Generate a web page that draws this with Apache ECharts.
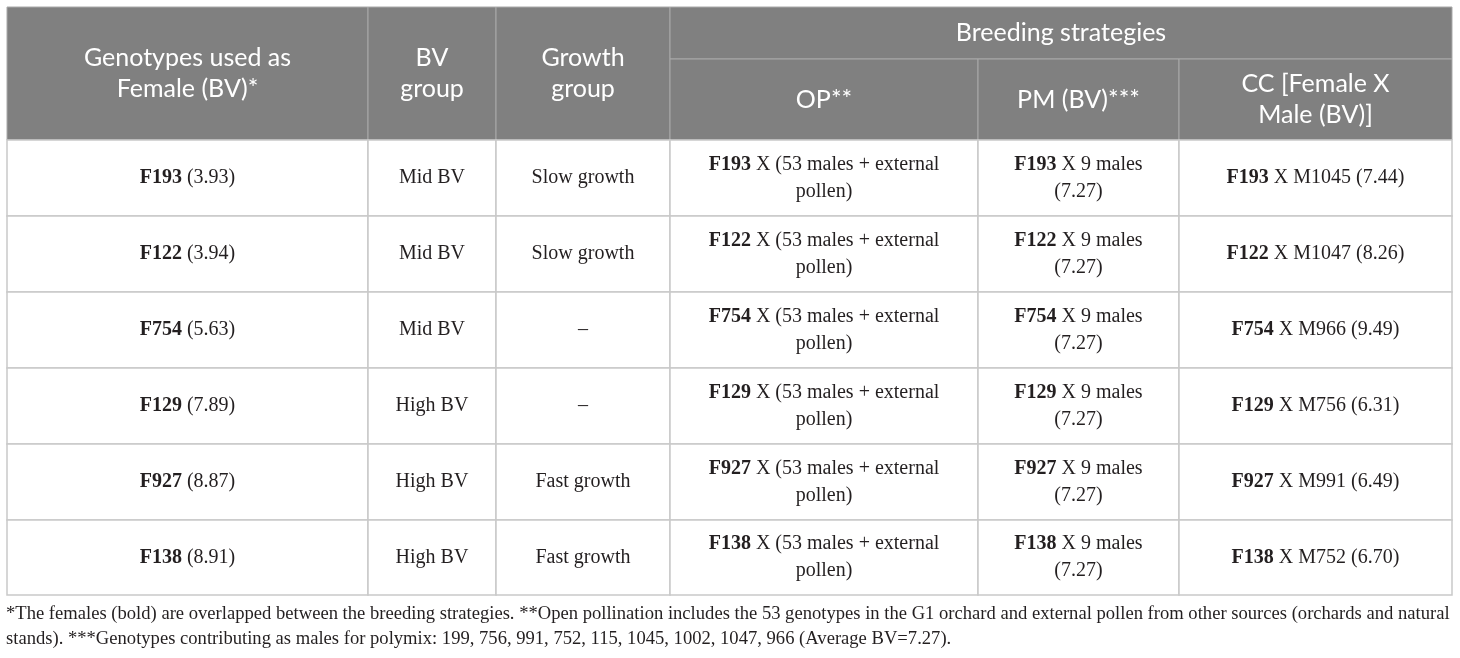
<!DOCTYPE html>
<html>
<head>
<meta charset="utf-8">
<script src="https://cdn.jsdelivr.net/npm/echarts@6/dist/echarts.min.js"></script>
<style>
  html, body { margin: 0; padding: 0; background: #fff; }
  #main { width: 1460px; height: 658px; }
</style>
</head>
<body>
<div id="main"></div>
<script>
// table content
var headTop = ['Genotypes used as\nFemale (BV)*', 'BV\ngroup', 'Growth\ngroup', 'Breeding strategies'];
var strategyHeads = ['OP**', 'PM (BV)***', 'CC [Female X\nMale (BV)]'];
var females = ['F193', 'F122', 'F754', 'F129', 'F927', 'F138'];
var femaleBV = ['3.93', '3.94', '5.63', '7.89', '8.87', '8.91'];
var bvGroup = ['Mid BV', 'Mid BV', 'Mid BV', 'High BV', 'High BV', 'High BV'];
var growthGroup = ['Slow growth', 'Slow growth', '\u2013', '\u2013', 'Fast growth', 'Fast growth'];
var opMales = 53;
var pmMales = 9;
var pmBV = '7.27';
var ccMales = ['M1045', 'M1047', 'M966', 'M756', 'M991', 'M752'];
var ccBV = ['7.44', '8.26', '9.49', '6.31', '6.49', '6.70'];
var footLines = [
    '*The females (bold) are overlapped between the breeding strategies. **Open pollination includes the 53 genotypes in the G1 orchard and external pollen from other sources (orchards and natural',
    'stands). ***Genotypes contributing as males for polymix: 199, 756, 991, 752, 115, 1045, 1002, 1047, 966 (Average BV=7.27).'
];

// layout (axis units = pixels of the page)
var colEdges = [7, 368, 496, 670, 978, 1179, 1452];
var rowEdges = [7, 59, 140, 216, 292, 368, 444, 520, 595];

var myChart = echarts.init(document.getElementById('main'));

// build cells: [x0, x1, y0, y1] from the edge indices
var cells = [];
function addCell(c0, c1, r0, r1, text, head) {
    cells.push({
        value: [colEdges[c0], colEdges[c1], rowEdges[r0], rowEdges[r1]],
        text: text,
        head: head
    });
}
addCell(0, 1, 0, 2, headTop[0], true);
addCell(1, 2, 0, 2, headTop[1], true);
addCell(2, 3, 0, 2, headTop[2], true);
addCell(3, 6, 0, 1, headTop[3], true);
for (var k = 0; k < strategyHeads.length; k++) {
    addCell(3 + k, 4 + k, 1, 2, strategyHeads[k], true);
}
for (var i = 0; i < females.length; i++) {
    var r = 2 + i;
    var f = '{b|' + females[i] + '}';
    addCell(0, 1, r, r + 1, f + ' (' + femaleBV[i] + ')', false);
    addCell(1, 2, r, r + 1, bvGroup[i], false);
    addCell(2, 3, r, r + 1, growthGroup[i], false);
    addCell(3, 4, r, r + 1, f + ' X (' + opMales + ' males + external\npollen)', false);
    addCell(4, 5, r, r + 1, f + ' X ' + pmMales + ' males\n(' + pmBV + ')', false);
    addCell(5, 6, r, r + 1, f + ' X ' + ccMales[i] + ' (' + ccBV[i] + ')', false);
}

var option = {
    animation: false,
    grid: { left: 0, right: 0, top: 0, bottom: 0 },
    xAxis: { type: 'value', min: 0, max: 1460, show: false },
    yAxis: { type: 'value', min: 0, max: 658, inverse: true, show: false },
    series: [{
        type: 'custom',
        clip: false,
        data: cells.map(function (c) { return c.value; }),
        renderItem: function (params, api) {
            var cell = cells[params.dataIndex];
            var p0 = api.coord([api.value(0), api.value(2)]);
            var p1 = api.coord([api.value(1), api.value(3)]);
            var head = cell.head;
            return {
                type: 'group',
                children: [{
                    type: 'rect',
                    shape: { x: p0[0], y: p0[1], width: p1[0] - p0[0], height: p1[1] - p0[1] },
                    style: {
                        fill: head ? '#808080' : '#ffffff',
                        stroke: head ? '#a9a9a9' : '#c9c9c9',
                        lineWidth: head ? 1 : 1.5
                    }
                }, {
                    type: 'text',
                    x: (p0[0] + p1[0]) / 2,
                    y: (p0[1] + p1[1]) / 2,
                    style: {
                        text: cell.text,
                        align: 'center',
                        verticalAlign: 'middle',
                        fill: head ? '#ffffff' : '#231f20',
                        fontFamily: head ? 'Lato' : 'Liberation Serif',
                        fontSize: head ? 25 : 20,
                        lineHeight: head ? 31 : 27,
                        rich: {
                            b: {
                                fontWeight: 'bold',
                                fontFamily: 'Liberation Serif',
                                fontSize: 20,
                                lineHeight: 27,
                                fill: '#231f20'
                            }
                        }
                    }
                }]
            };
        }
    }],
    graphic: footLines.map(function (t, n) {
        return {
            type: 'text',
            left: 6,
            top: 605 + n * 25,
            style: {
                text: t,
                fill: '#231f20',
                fontFamily: 'Liberation Serif',
                fontSize: 18.6
            }
        };
    })
};

myChart.setOption(option);
</script>
</body>
</html>
